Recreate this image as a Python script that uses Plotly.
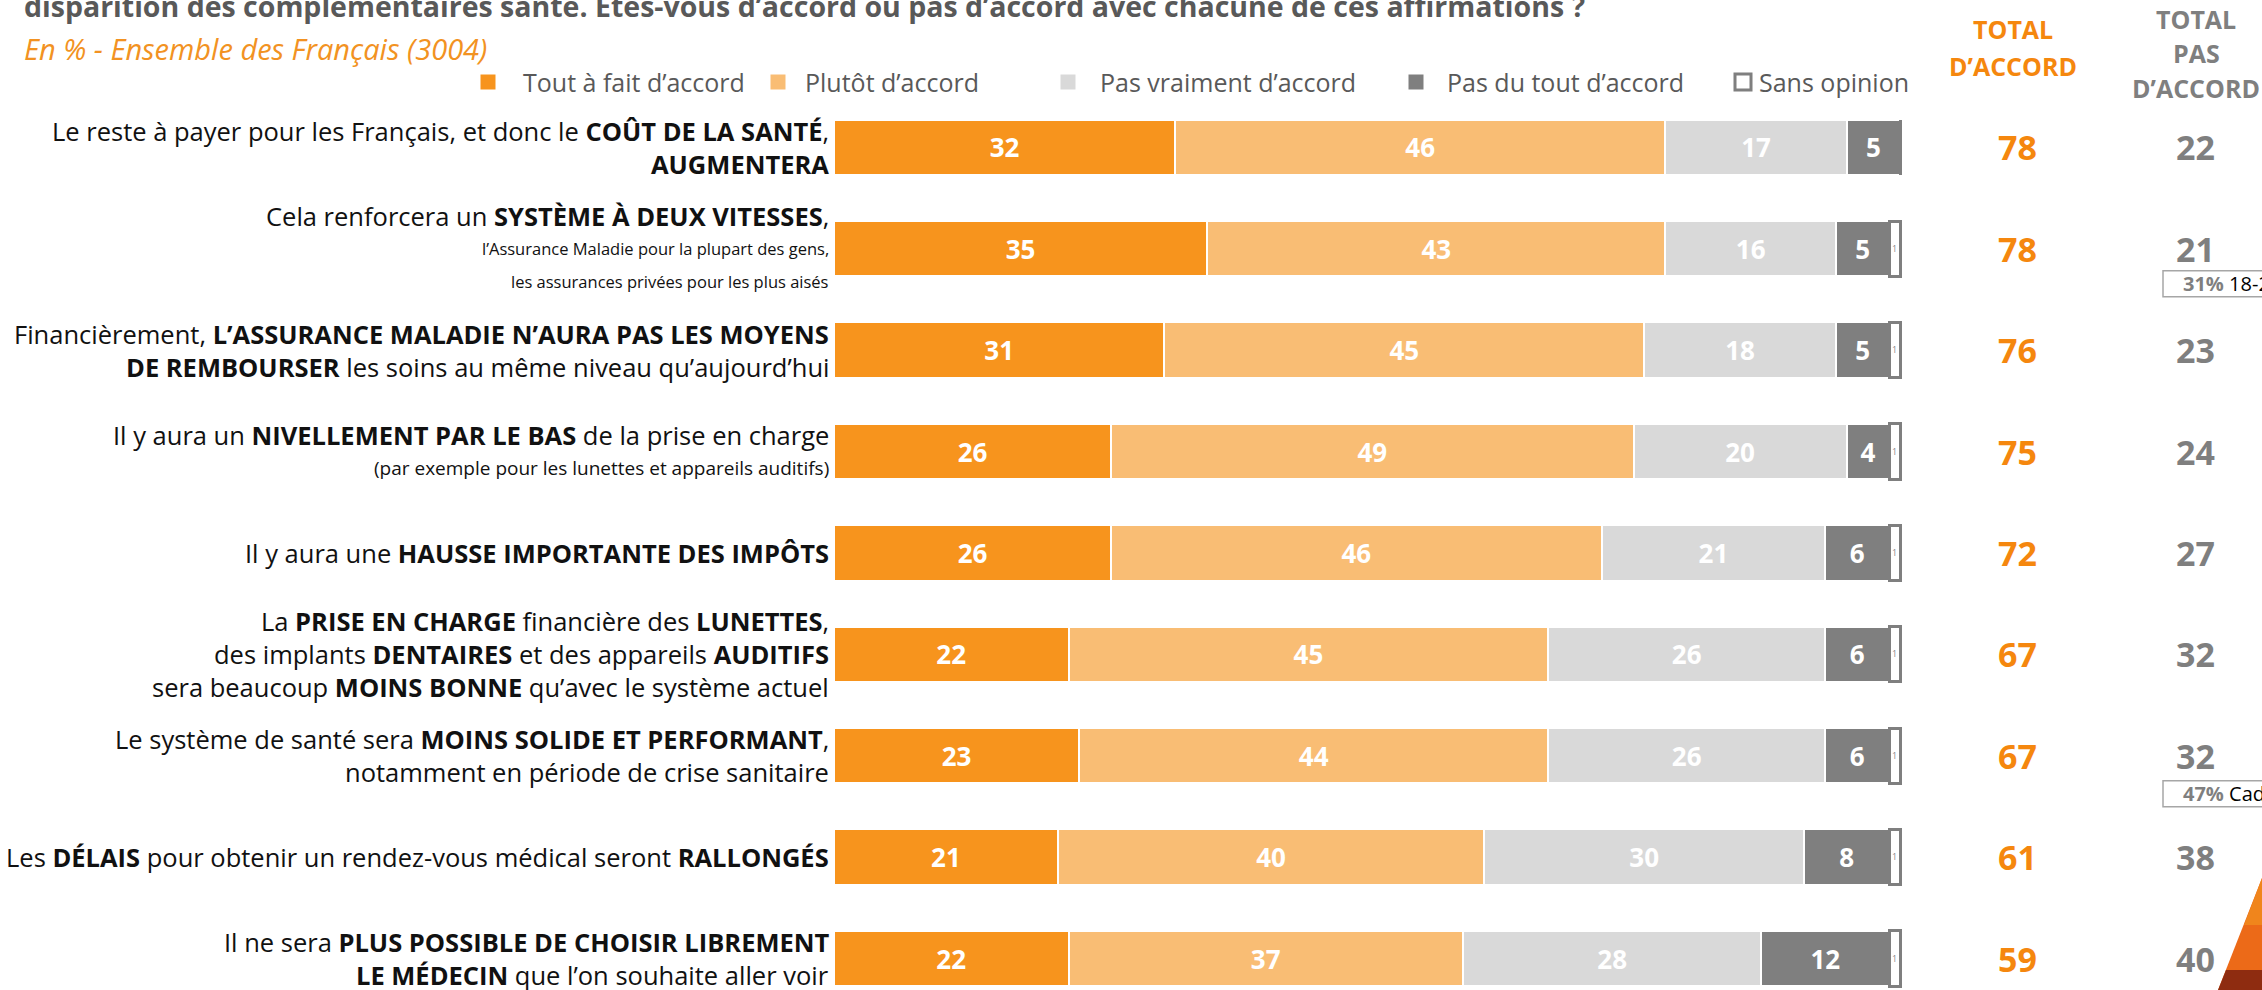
import plotly.graph_objects as go

W, H = 2262, 990
FONT = "Open Sans"

# ---- data ----
series_names = ["Tout à fait d’accord", "Plutôt d’accord", "Pas vraiment d’accord",
                "Pas du tout d’accord", "Sans opinion"]
tout_a_fait = [32, 35, 31, 26, 26, 22, 23, 21, 22]
plutot = [46, 43, 45, 49, 46, 45, 44, 40, 37]
pas_vraiment = [17, 16, 18, 20, 21, 26, 26, 30, 28]
pas_du_tout = [5, 5, 5, 4, 6, 6, 6, 8, 12]
sans_opinion = [0, 1, 1, 1, 1, 1, 1, 1, 1]
total_accord = [78, 78, 76, 75, 72, 67, 67, 61, 59]
total_pas_accord = [22, 21, 23, 24, 27, 32, 32, 38, 40]

statements = [
    ["Le reste à payer pour les Français, et donc le <b>COÛT DE LA SANTÉ</b>,",
     "<b>AUGMENTERA</b>"],
    ["Cela renforcera un <b>SYSTÈME À DEUX VITESSES</b>,",
     "l’Assurance Maladie pour la plupart des gens,",
     "les assurances privées pour les plus aisés"],
    ["Financièrement, <b>L’ASSURANCE MALADIE N’AURA PAS LES MOYENS</b>",
     "<b>DE REMBOURSER</b> les soins au même niveau qu’aujourd’hui"],
    ["Il y aura un <b>NIVELLEMENT PAR LE BAS</b> de la prise en charge",
     "(par exemple pour les lunettes et appareils auditifs)"],
    ["Il y aura une <b>HAUSSE IMPORTANTE DES IMPÔTS</b>"],
    ["La <b>PRISE EN CHARGE</b> financière des <b>LUNETTES</b>,",
     "des implants <b>DENTAIRES</b> et des appareils <b>AUDITIFS</b>",
     "sera beaucoup <b>MOINS BONNE</b> qu’avec le système actuel"],
    ["Le système de santé sera <b>MOINS SOLIDE ET PERFORMANT</b>,",
     "notamment en période de crise sanitaire"],
    ["Les <b>DÉLAIS</b> pour obtenir un rendez-vous médical seront <b>RALLONGÉS</b>"],
    ["Il ne sera <b>PLUS POSSIBLE DE CHOISIR LIBREMENT</b>",
     "<b>LE MÉDECIN</b> que l’on souhaite aller voir"],
]

badge_rows = [1, 6]
badge_pct = ["31%", "47%"]
badge_group = ["18-24 ans", "Cadres"]

title = "disparition des complémentaires santé. Êtes-vous d’accord ou pas d’accord avec chacune de ces affirmations ?"
subtitle = "En % - Ensemble des Français (3004)"
head_accord = ["TOTAL", "D’ACCORD"]
head_pas = ["TOTAL", "PAS", "D’ACCORD"]

# ---- styling / geometry ----
colors = ["#F7941D", "#F9BD74", "#D9D9D9", "#7F7F7F", "#FFFFFF"]
ORANGE_TXT = "#F5870E"
GRAY_TXT = "#7F7F7F"
# smaller secondary lines: (row, line) -> font size
small_lines = {(1, 1): 16.5, (1, 2): 16.5, (3, 1): 19}

X0 = 834      # pixel where 0 % sits
PPX = 10.66   # pixels per percent
ROW0 = 147.3  # pixel centre of first row
STEP = 101.4  # pixels between rows


def xd(px):
    return (px - X0) / PPX


def yd(py):
    return (py - ROW0) / STEP


rows = list(range(len(tout_a_fait)))
fig = go.Figure()

all_series = [tout_a_fait, plutot, pas_vraiment, pas_du_tout, sans_opinion]
for k, (name, vals, col) in enumerate(zip(series_names, all_series, colors)):
    last = k == 4
    fig.add_trace(go.Bar(
        y=rows, x=vals, orientation="h", name=name, width=0.545,
        marker=dict(color=col,
                    line=dict(color="#7F7F7F" if last else "white", width=3 if last else 2),
                    cornerradius=4 if last else 0),
        text=[str(v) if v else "" for v in vals],
        textposition="inside", insidetextanchor="middle",
        textfont=dict(family=FONT, size=18 if last else 26,
                      color=GRAY_TXT if last else "white",
                      weight="normal" if last else "bold"),
        hoverinfo="skip",
    ))

ann = []
shapes = []

# statements
LINE_H = 33
for i, lines in enumerate(statements):
    n = len(lines)
    for k, line in enumerate(lines):
        py = ROW0 + i * STEP + (k - (n - 1) / 2) * LINE_H
        ann.append(dict(x=xd(831), y=yd(py), text=line, showarrow=False,
                        xanchor="right", yanchor="middle",
                        font=dict(family=FONT, size=small_lines.get((i, k), 25.5),
                                  color="#111111")))

# totals
for i in rows:
    ann.append(dict(x=xd(2017), y=i, text=f"<b>{total_accord[i]}</b>", showarrow=False,
                    font=dict(family=FONT, size=34, color=ORANGE_TXT)))
    ann.append(dict(x=xd(2195), y=i, text=f"<b>{total_pas_accord[i]}</b>", showarrow=False,
                    font=dict(family=FONT, size=34, color=GRAY_TXT)))

# column headers
for txt, py in zip(head_accord, [29, 66]):
    ann.append(dict(x=xd(2013), y=yd(py), text=f"<b>{txt}</b>", showarrow=False,
                    font=dict(family=FONT, size=25, color=ORANGE_TXT)))
for txt, py in zip(head_pas, [19, 53, 88]):
    ann.append(dict(x=xd(2196), y=yd(py), text=f"<b>{txt}</b>", showarrow=False,
                    font=dict(family=FONT, size=25, color=GRAY_TXT)))

# title (cut at the top edge) and subtitle
ann.append(dict(x=xd(22), y=yd(27), text=f"<b>{title}</b>", showarrow=False,
                xanchor="left", yanchor="bottom",
                font=dict(family=FONT, size=28.5, color="#595959")))
ann.append(dict(x=xd(22), y=yd(48), text=f"<i>{subtitle}</i>", showarrow=False,
                xanchor="left", yanchor="middle",
                font=dict(family=FONT, size=29, color="#F29222")))

# legend (manual, to follow the reference spacing)
sq_cx = [488, 778, 1068, 1416, 1743]
txt_x = [521, 803, 1098, 1445, 1757]
LEG_Y = 82
for k, name in enumerate(series_names):
    last = k == 4
    s = 16 if last else 15
    shapes.append(dict(type="rect", xref="x", yref="y",
                       x0=xd(sq_cx[k] - s / 2), x1=xd(sq_cx[k] + s / 2),
                       y0=yd(LEG_Y - s / 2), y1=yd(LEG_Y + s / 2),
                       fillcolor=colors[k],
                       line=dict(color="#7F7F7F" if last else colors[k], width=3 if last else 0)))
    ann.append(dict(x=xd(txt_x[k]), y=yd(LEG_Y), text=name, showarrow=False,
                    xanchor="left", yanchor="middle",
                    font=dict(family=FONT, size=25, color="#595959")))

# badges below some "pas d'accord" totals
for r, pct, grp, off in zip(badge_rows, badge_pct, badge_group, [35, 38]):
    cy = ROW0 + r * STEP + off
    shapes.append(dict(type="rect", xref="x", yref="y",
                       x0=xd(2163), x1=xd(2290), y0=yd(cy - 13), y1=yd(cy + 13),
                       fillcolor="white", line=dict(color="#A6A6A6", width=1.5)))
    ann.append(dict(x=xd(2181), y=yd(cy), showarrow=False, xanchor="left", yanchor="middle",
                    text=f"<b><span style='color:{GRAY_TXT}'>{pct}</span></b> {grp}",
                    font=dict(family=FONT, size=20, color="#000000")))

# orange corner logo
def pth(pts):
    return "M " + " L ".join(f"{x / W:.5f},{1 - y / H:.5f}" for x, y in pts) + " Z"

shapes.append(dict(type="path", xref="paper", yref="paper", path=pth([(2218, 990), (2262, 878), (2262, 990)]),
                   fillcolor="#EC6A18", line=dict(width=0)))
shapes.append(dict(type="path", xref="paper", yref="paper", path=pth([(2262, 878), (2262, 925), (2244, 925)]),
                   fillcolor="#F0851C", line=dict(width=0)))
shapes.append(dict(type="path", xref="paper", yref="paper", path=pth([(2218, 990), (2226, 970), (2262, 970), (2262, 990)]),
                   fillcolor="#8E2C10", line=dict(width=0)))

fig.update_layout(
    width=W, height=H, margin=dict(l=0, r=0, t=0, b=0),
    paper_bgcolor="white", plot_bgcolor="white",
    barmode="stack", showlegend=False,
    xaxis=dict(range=[xd(0), xd(W)], visible=False, fixedrange=True),
    yaxis=dict(range=[yd(H), yd(0)], visible=False, fixedrange=True),
    annotations=ann, shapes=shapes,
    font=dict(family=FONT),
)

# drop the default page margin so the figure sits at the window's corner
fig.write_html("out.html", config={"displayModeBar": False},
               post_script="document.body.style.margin='0px';document.body.style.overflow='hidden';")
